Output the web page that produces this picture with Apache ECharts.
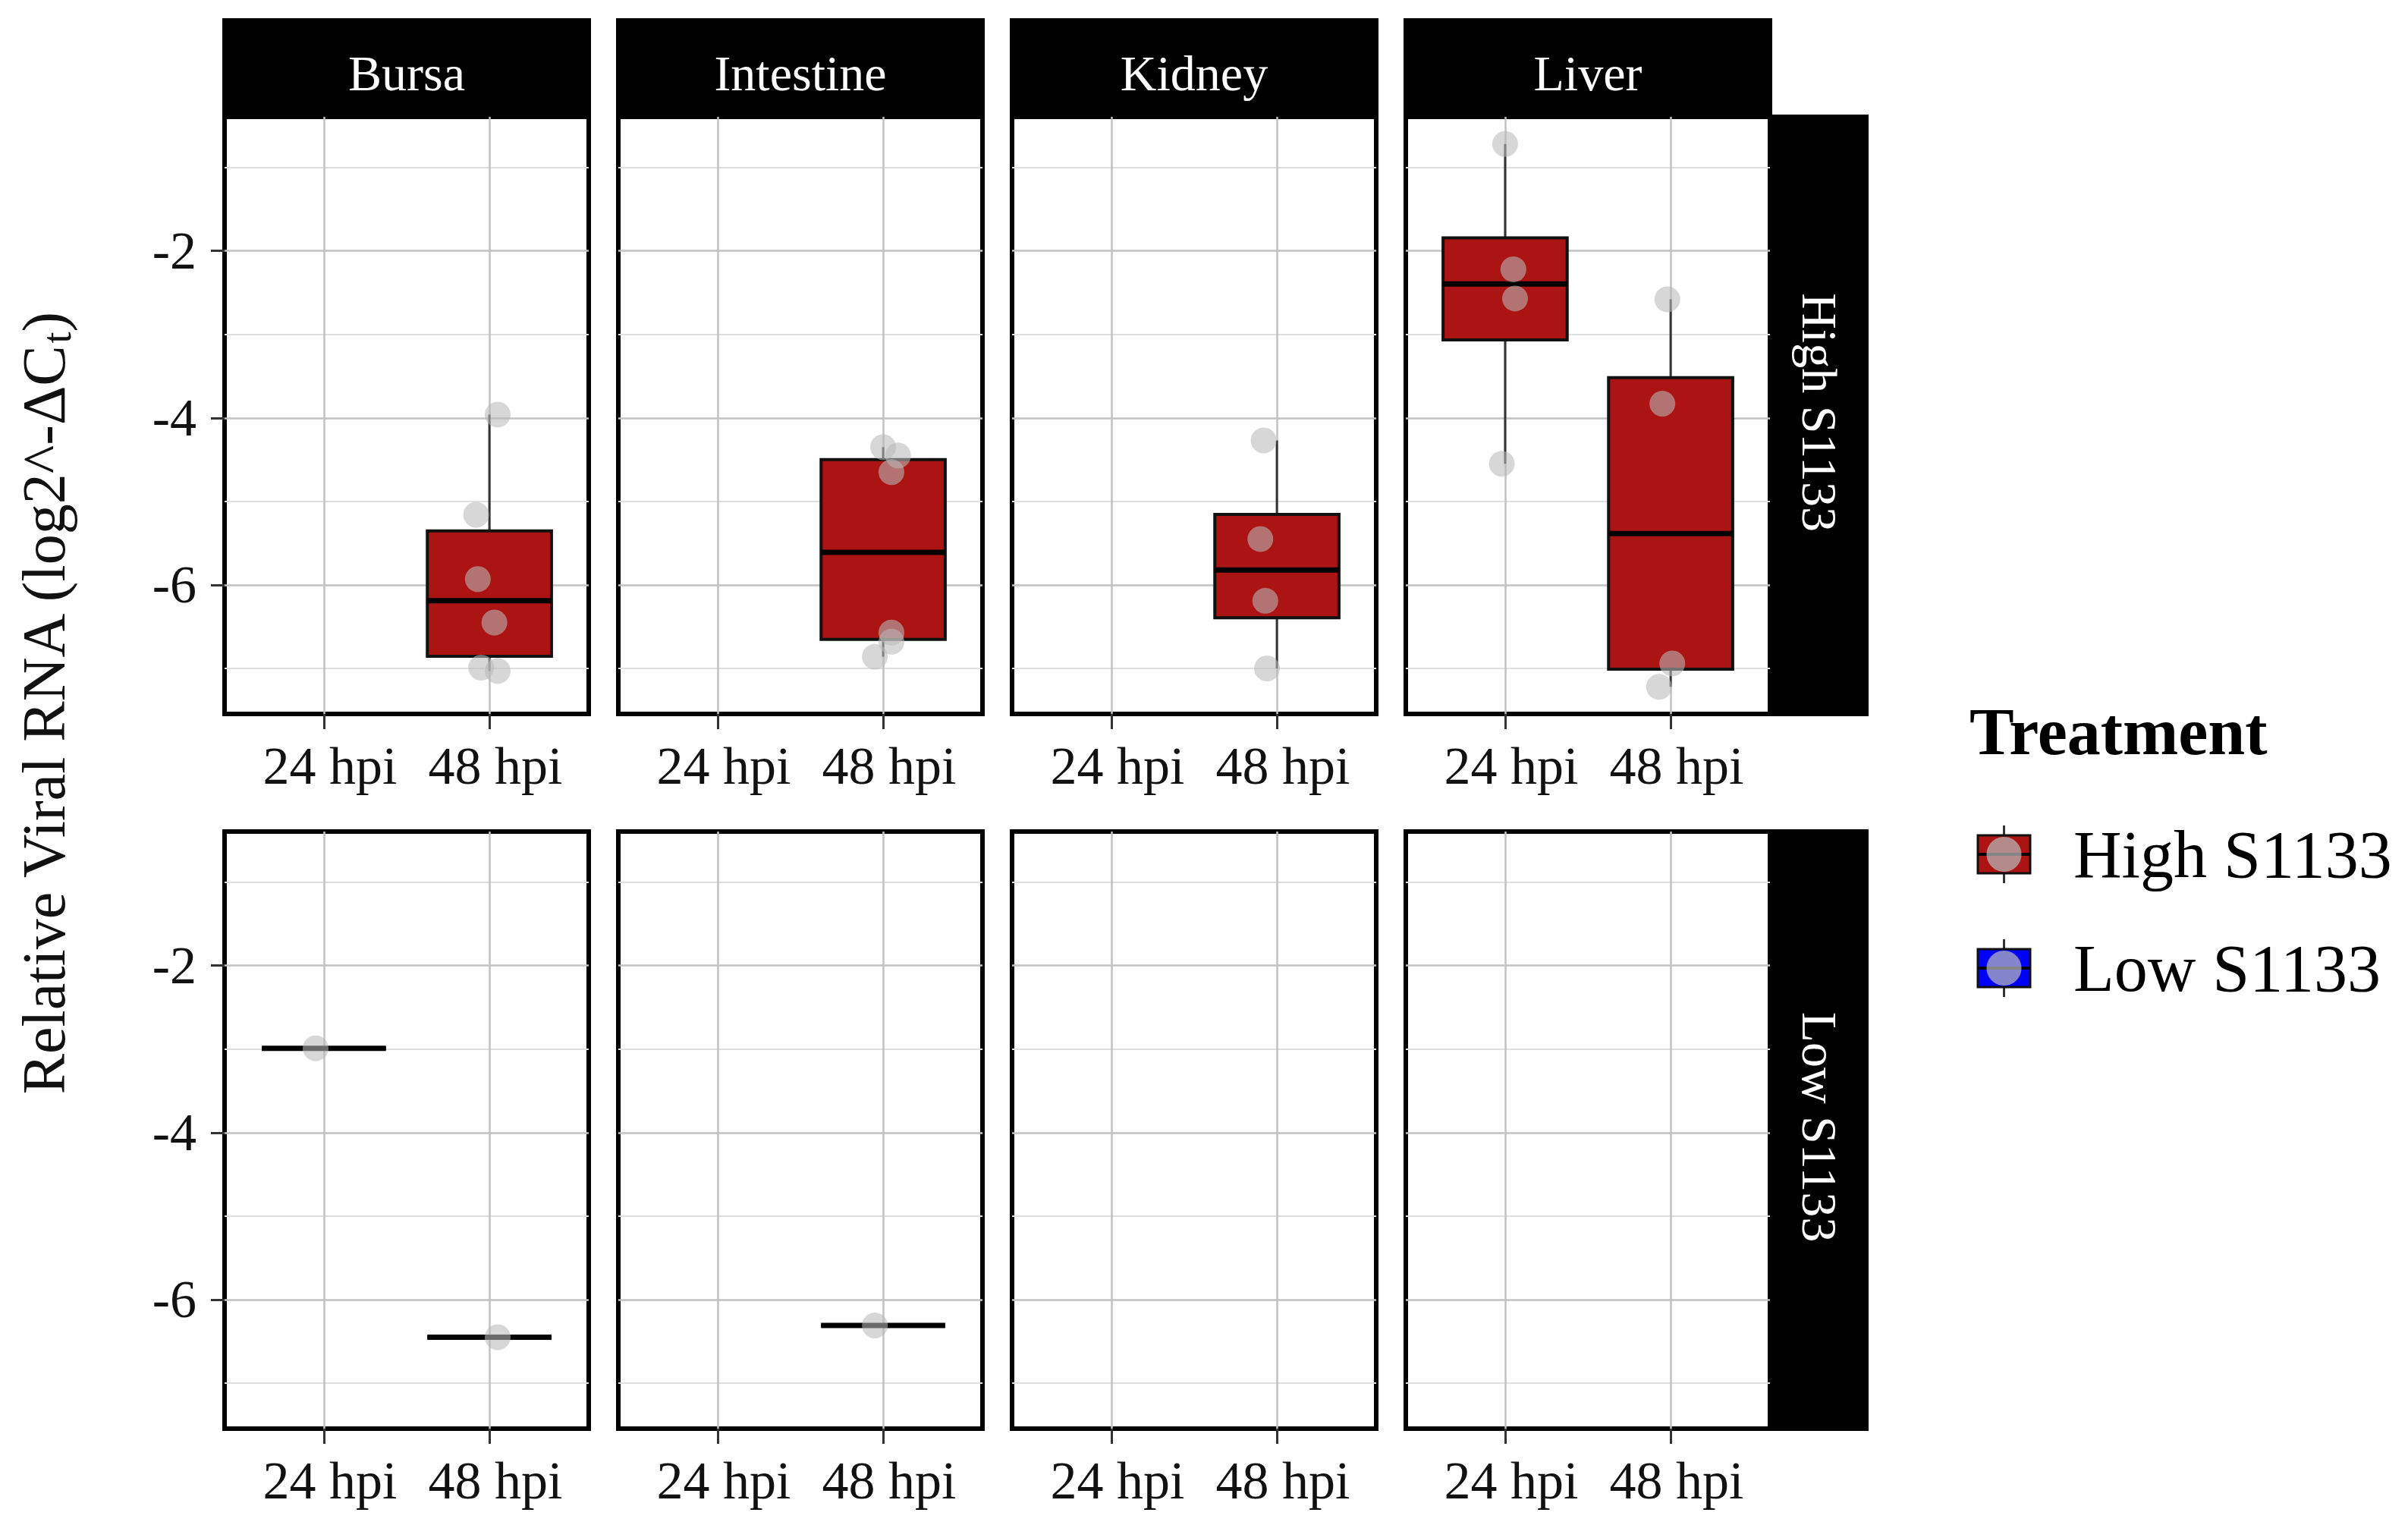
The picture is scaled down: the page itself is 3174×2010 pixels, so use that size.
<!DOCTYPE html>
<html><head><meta charset="utf-8">
<script src="https://cdn.jsdelivr.net/npm/echarts@6/dist/echarts.min.js"></script>
<style>html,body{margin:0;padding:0;background:#fff}#c{width:3174px;height:2010px}</style>
</head><body><div id="c"></div>
<script>
// ---------------- data ----------------
const tissues = ['Bursa', 'Intestine', 'Kidney', 'Liver'];
const treatments = ['High S1133', 'Low S1133'];
const timepoints = ['24 hpi', '48 hpi'];
const yMajorTicks = [-6, -4, -2];
const yMinorTicks = [-7, -5, -3, -1];
const yRange = [-7.545, -0.395];

const highBursa48 = [-3.96, -5.16, -5.93, -6.45, -6.99, -7.03];
const highBursa48Jitter = [0.05, -0.08, -0.07, 0.03, -0.05, 0.05];
const highIntestine48 = [-4.35, -4.45, -4.65, -6.57, -6.68, -6.86];
const highIntestine48Jitter = [0.0, 0.09, 0.05, 0.05, 0.05, -0.05];
const highKidney48 = [-4.27, -5.45, -6.19, -7.00];
const highKidney48Jitter = [-0.08, -0.10, -0.07, -0.06];
const highLiver24 = [-0.72, -2.22, -2.57, -4.55];
const highLiver24Jitter = [0.0, 0.05, 0.06, -0.02];
const highLiver48 = [-2.58, -3.83, -6.94, -7.22];
const highLiver48Jitter = [-0.02, -0.05, 0.01, -0.07];
const lowBursa24 = [-2.99];
const lowBursa24Jitter = [-0.05];
const lowBursa48 = [-6.45];
const lowBursa48Jitter = [0.05];
const lowIntestine48 = [-6.31];
const lowIntestine48Jitter = [-0.05];

const groups = [
  { treatment: 0, tissue: 0, time: 1, values: highBursa48, jitter: highBursa48Jitter },
  { treatment: 0, tissue: 1, time: 1, values: highIntestine48, jitter: highIntestine48Jitter },
  { treatment: 0, tissue: 2, time: 1, values: highKidney48, jitter: highKidney48Jitter },
  { treatment: 0, tissue: 3, time: 0, values: highLiver24, jitter: highLiver24Jitter },
  { treatment: 0, tissue: 3, time: 1, values: highLiver48, jitter: highLiver48Jitter },
  { treatment: 1, tissue: 0, time: 0, values: lowBursa24, jitter: lowBursa24Jitter },
  { treatment: 1, tissue: 0, time: 1, values: lowBursa48, jitter: lowBursa48Jitter },
  { treatment: 1, tissue: 1, time: 1, values: lowIntestine48, jitter: lowIntestine48Jitter }
];

// ---------------- layout / style ----------------
const FONT = "'Liberation Serif', 'Times New Roman', serif";
const LEFT0 = 296, COL_STEP = 519, PANEL_W = 480;
const ROW_TOP = [154, 1096], PANEL_H = 787;
const STRIP_TOP = 24, RSTRIP_W = 130;
const BOX_W = 0.75;
const BOX_FILL = '#AC1313';
const POINT_COLOR = 'rgba(185,185,185,0.72)';

function quantile7(sorted, p) {
  const h = (sorted.length - 1) * p;
  const lo = Math.floor(h), hi = Math.ceil(h);
  return sorted[lo] + (h - lo) * (sorted[hi] - sorted[lo]);
}
function boxStats(vals) {
  const s = vals.slice().sort((a, b) => a - b);
  const q1 = quantile7(s, 0.25), med = quantile7(s, 0.5), q3 = quantile7(s, 0.75);
  const iqr = q3 - q1;
  const lo = Math.min(...s.filter(v => v >= q1 - 1.5 * iqr));
  const hi = Math.max(...s.filter(v => v <= q3 + 1.5 * iqr));
  return [lo, q1, med, q3, hi];
}

const grids = [], xAxes = [], yAxes = [], series = [];
for (let r = 0; r < 2; r++) {
  for (let c = 0; c < 4; c++) {
    const g = r * 4 + c;
    grids.push({
      left: LEFT0 + c * COL_STEP, top: ROW_TOP[r], width: PANEL_W, height: PANEL_H,
      show: true, borderColor: '#000', borderWidth: 6, backgroundColor: '#fff', containLabel: false
    });
    xAxes.push({
      gridIndex: g, type: 'value', min: 0.4, max: 2.6,
      axisLine: { show: false },
      axisTick: { show: true, customValues: [1, 2], length: 20, lineStyle: { color: '#333', width: 3 } },
      axisLabel: {
        customValues: [1, 2], formatter: v => timepoints[Math.round(v) - 1],
        fontSize: 70, fontFamily: FONT, color: '#111', margin: 33, padding: [0, 0, 0, 16]
      },
      splitLine: { show: true, lineStyle: { color: '#c2c2c2', width: 2.5 } }
    });
  }
}
for (let g = 0; g < 8; g++) {
  const c = g % 4;
  yAxes.push({
    gridIndex: g, type: 'value', min: yRange[0], max: yRange[1],
    axisLine: { show: false },
    axisTick: { show: c === 0, customValues: yMajorTicks, length: 18, lineStyle: { color: '#333', width: 3 } },
    axisLabel: { show: c === 0, customValues: yMajorTicks, fontSize: 70, fontFamily: FONT, color: '#111', margin: 37 },
    splitLine: { show: true, lineStyle: { color: '#c2c2c2', width: 2.5 } }
  });
}
for (let g = 0; g < 8; g++) {
  yAxes.push({
    gridIndex: g, type: 'value', min: yRange[0], max: yRange[1],
    axisLine: { show: false },
    axisTick: { show: false, customValues: yMinorTicks },
    axisLabel: { show: false, customValues: yMinorTicks },
    splitLine: { show: true, lineStyle: { color: '#e0e0e0', width: 2 } }
  });
}

function renderBox(params, api) {
  const x = api.value(0);
  const lo = api.value(1), q1 = api.value(2), med = api.value(3), q3 = api.value(4), hi = api.value(5);
  const pLo = api.coord([x, lo]), pQ1 = api.coord([x, q1]), pMed = api.coord([x, med]);
  const pQ3 = api.coord([x, q3]), pHi = api.coord([x, hi]);
  const left = api.coord([x - BOX_W / 2, med])[0], right = api.coord([x + BOX_W / 2, med])[0];
  return {
    type: 'group',
    children: [
      { type: 'line', shape: { x1: pHi[0], y1: pHi[1], x2: pQ3[0], y2: pQ3[1] }, style: { stroke: '#333', lineWidth: 3 } },
      { type: 'line', shape: { x1: pQ1[0], y1: pQ1[1], x2: pLo[0], y2: pLo[1] }, style: { stroke: '#333', lineWidth: 3 } },
      { type: 'rect', shape: { x: left, y: pQ3[1], width: right - left, height: pQ1[1] - pQ3[1] },
        style: { fill: BOX_FILL, stroke: '#111', lineWidth: 4 } },
      { type: 'line', shape: { x1: left, y1: pMed[1], x2: right, y2: pMed[1] }, style: { stroke: '#000', lineWidth: 7 } }
    ]
  };
}

groups.forEach(gr => {
  const g = gr.treatment * 4 + gr.tissue;
  const xpos = gr.time + 1;
  series.push({
    name: treatments[gr.treatment], type: 'custom', xAxisIndex: g, yAxisIndex: g,
    renderItem: renderBox, clip: false, z: 2,
    encode: { x: 0, y: [1, 2, 3, 4, 5] },
    data: [[xpos].concat(boxStats(gr.values))]
  });
  series.push({
    name: treatments[gr.treatment], type: 'scatter', xAxisIndex: g, yAxisIndex: g, z: 3,
    symbolSize: 34, itemStyle: { color: POINT_COLOR },
    data: gr.values.map((v, i) => [xpos + gr.jitter[i], v])
  });
});

// ---------------- graphics: strips, axis title, legend ----------------
const graphics = [];
tissues.forEach((t, c) => {
  const left = LEFT0 + c * COL_STEP;
  graphics.push({ type: 'rect', shape: { x: left - 3, y: STRIP_TOP, width: PANEL_W + 6, height: ROW_TOP[0] - STRIP_TOP }, style: { fill: '#000' }, z: 10 });
  graphics.push({ type: 'text', x: left + PANEL_W / 2, y: (STRIP_TOP + ROW_TOP[0]) / 2 + 7, z: 11,
    style: { text: t, fill: '#fff', font: `66px ${FONT}`, align: 'center', verticalAlign: 'middle' } });
});
const rightX = LEFT0 + 3 * COL_STEP + PANEL_W;
treatments.forEach((t, r) => {
  graphics.push({ type: 'rect', shape: { x: rightX, y: ROW_TOP[r] - 3, width: RSTRIP_W, height: PANEL_H + 6 }, style: { fill: '#000' }, z: 10 });
  graphics.push({ type: 'text', x: rightX + RSTRIP_W / 2, y: ROW_TOP[r] + PANEL_H / 2 - 4, rotation: -Math.PI / 2, z: 11,
    style: { text: t, fill: '#fff', font: `66px ${FONT}`, align: 'center', verticalAlign: 'middle' } });
});
graphics.push({
  type: 'text', x: 58, y: 928, rotation: Math.PI / 2, z: 11,
  style: {
    text: '{a|Relative Viral RNA (log2^-\u0394C}{b|t}{a|)}',
    align: 'center', verticalAlign: 'middle', fill: '#111',
    rich: {
      a: { fontSize: 80, fontFamily: FONT, fill: '#111', lineHeight: 100, verticalAlign: 'middle' },
      b: { fontSize: 54, fontFamily: FONT, fill: '#111', lineHeight: 100, verticalAlign: 'bottom', padding: [0, 0, 6, 0] }
    }
  }
});
// legend
const LEG_X = 2596, KEY_X = 2607, KEY_W = 69, KEY_H = 50;
graphics.push({ type: 'text', x: LEG_X, y: 964, z: 11,
  style: { text: 'Treatment', fill: '#000', font: `bold 88px ${FONT}`, align: 'left', verticalAlign: 'middle' } });
const legendFill = ['#AC1313', '#0000FF'];
const legendY = [1126, 1276];
treatments.forEach((t, i) => {
  const cy = legendY[i], cx = KEY_X + KEY_W / 2;
  graphics.push({ type: 'line', shape: { x1: cx, y1: cy - 38, x2: cx, y2: cy + 38 }, style: { stroke: '#333', lineWidth: 3 }, z: 11 });
  graphics.push({ type: 'rect', shape: { x: KEY_X, y: cy - KEY_H / 2, width: KEY_W, height: KEY_H }, style: { fill: legendFill[i], stroke: '#111', lineWidth: 3 }, z: 11 });
  graphics.push({ type: 'line', shape: { x1: KEY_X, y1: cy, x2: KEY_X + KEY_W, y2: cy }, style: { stroke: '#000', lineWidth: 4 }, z: 11 });
  graphics.push({ type: 'circle', shape: { cx: cx, cy: cy, r: 23 }, style: { fill: POINT_COLOR }, z: 12 });
  graphics.push({ type: 'text', x: 2733, y: cy, z: 11,
    style: { text: t, fill: '#000', font: `88px ${FONT}`, align: 'left', verticalAlign: 'middle' } });
});

const chart = echarts.init(document.getElementById('c'), null, { renderer: 'svg' });
chart.setOption({
  animation: false,
  backgroundColor: '#fff',
  grid: grids, xAxis: xAxes, yAxis: yAxes, series: series,
  graphic: graphics
});
</script></body></html>
